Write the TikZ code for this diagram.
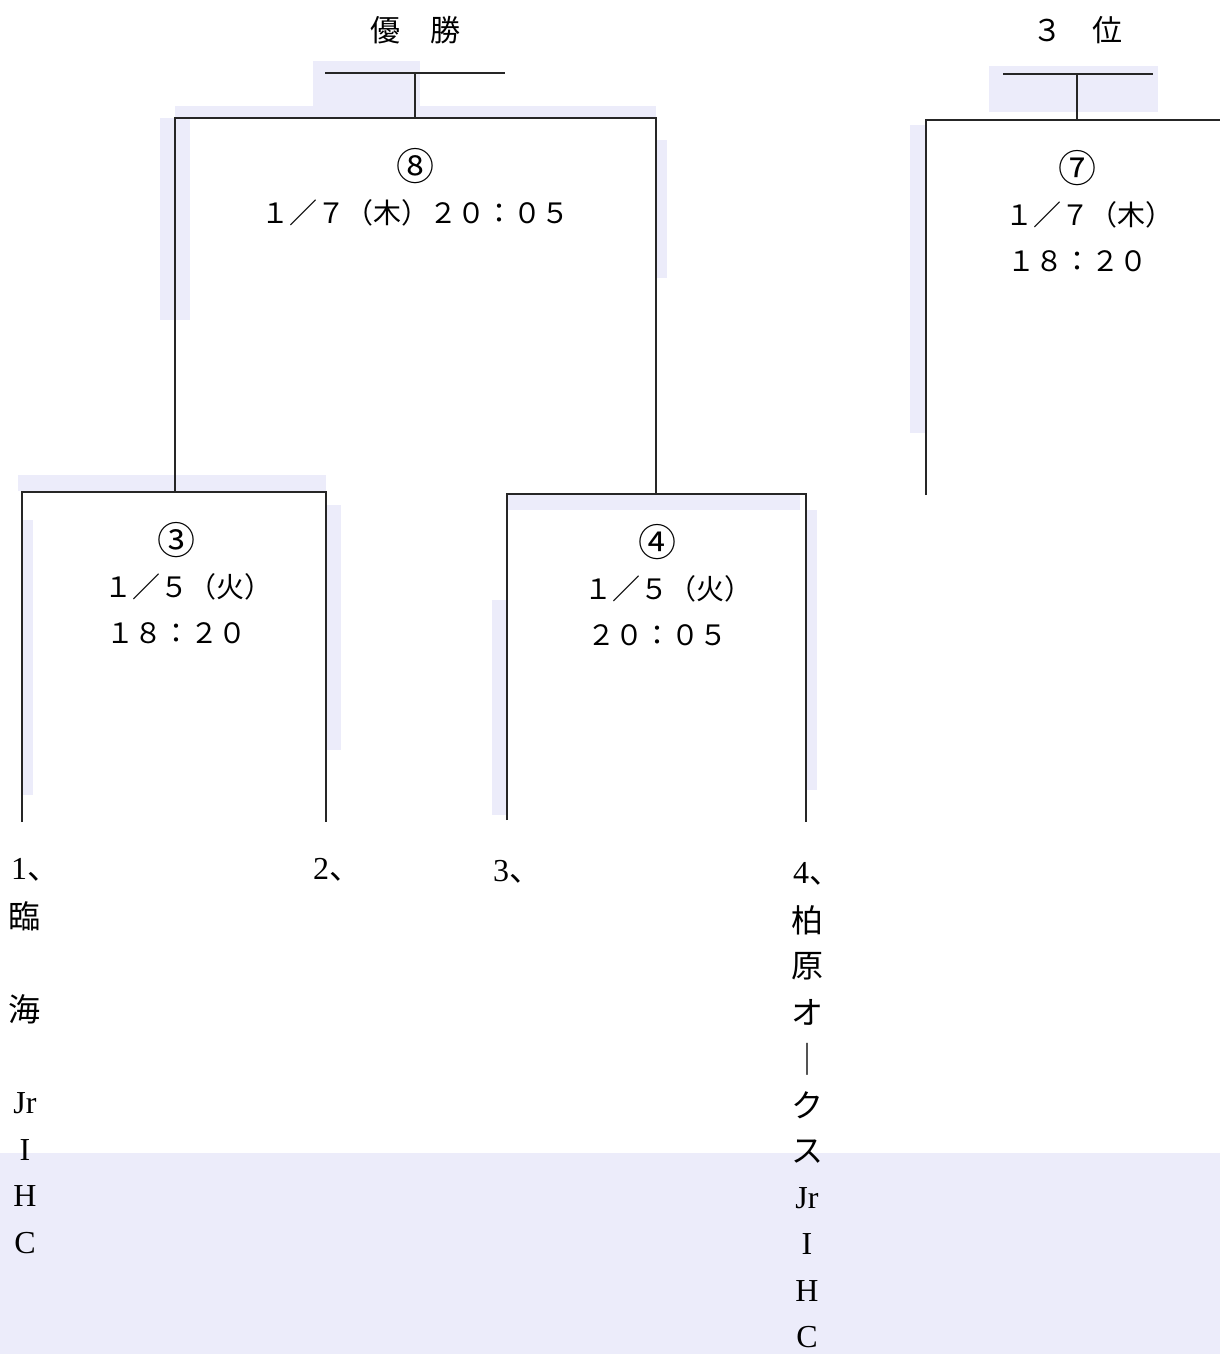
\documentclass[tikz,border=0pt]{standalone}
\usepackage{fontspec}
\setmainfont{Liberation Serif}
\newfontfamily\jp{Noto Sans CJK JP}
\usetikzlibrary{positioning}
\definecolor{scanblue}{RGB}{236,236,250}

\begin{document}
\begin{tikzpicture}[x=0.5pt,y=-0.5pt,node distance=23.3pt,on grid,
    line/.style={line width=0.8pt,black!85},
    title/.style={font=\jp\fontsize{15}{17}\selectfont,inner sep=0pt},
    date/.style={font=\jp\fontsize{14}{16}\selectfont,inner sep=0pt},
    num/.style={font=\jp\fontsize{19}{21}\selectfont,inner sep=0pt},
    team/.style={font=\fontsize{16}{18}\selectfont,inner sep=0pt}]
   \useasboundingbox (0,0) rectangle (1220,1354);
   % marks left by the scan
   \fill[scanblue] (313,61) rectangle (420,107);
   \fill[scanblue] (175,106) rectangle (656,117);
   \fill[scanblue] (160,118) rectangle (190,320);
   \fill[scanblue] (657,140) rectangle (667,278);
   \fill[scanblue] (18,475) rectangle (326,491);
   \fill[scanblue] (23,520) rectangle (33,795);
   \fill[scanblue] (327,505) rectangle (341,750);
   \fill[scanblue] (508,495) rectangle (800,510);
   \fill[scanblue] (492,600) rectangle (506,815);
   \fill[scanblue] (807,510) rectangle (817,790);
   \fill[scanblue] (989,66) rectangle (1158,112);
   \fill[scanblue] (910,125) rectangle (925,433);
   \fill[scanblue] (0,1153) rectangle (1220,1354);

   % bracket
   \coordinate (w) at (415,73);
   \coordinate (f) at (415,118);
   \coordinate (s3) at (175,492);
   \coordinate (s4) at (656,494);
   \coordinate (p1) at (22,822);
   \coordinate (p2) at (326,822);
   \coordinate (p3) at (507,820);
   \coordinate (p4) at (806,822);
   \draw[line] ([xshift=-45pt]w) -- ([xshift=45pt]w);
   \draw[line] (w) -- (f);
   \draw[line] (s3) |- (f) -| (s4);
   \draw[line] (p1) |- (s3) -| (p2);
   \draw[line] (p3) |- (s4) -| (p4);

   \coordinate (b) at (1077,74);
   \coordinate (t) at (1077,120);
   \coordinate (q7) at (926,495);
   \coordinate (q7r) at (1220,120);
   \draw[line] ([xshift=-37pt]b) -- ([xshift=38pt]b);
   \draw[line] (b) -- (t);
   \draw[line] (q7) |- (t) -- (q7r);

   % titles
   \node[title] (win) at (415,30) {優　勝};
   \node[title] (bronze) at (1077,30) {３　位};

   % matches
   \node[num] (n8) at (415,166) {⑧};
   \node[date] (d8) [below=of n8] {１／７（木）２０：０５};
   \node[num] (n7) at (1077,168) {⑦};
   \node[date] (d7) [below=of n7,xshift=6pt] {１／７（木）};
   \node[date] (h7) [below=of n7] {\phantom{x}};
   \node[date] (e7) [below=of h7] {１８：２０};
   \node[num] (n3) at (176,540) {③};
   \node[date] (d3) [below=of n3,xshift=6pt] {１／５（火）};
   \node[date] (h3) [below=of n3] {\phantom{x}};
   \node[date] (e3) [below=of h3] {１８：２０};
   \node[num] (n4) at (657,542) {④};
   \node[date] (d4) [below=of n4,xshift=5.5pt] {１／５（火）};
   \node[date] (h4) [below=of n4] {\phantom{x}};
   \node[date] (e4) [below=of h4] {２０：０５};

   % teams
   \node[team] (t1) at (35,870) {1{\jp 、}};
   \node[team] (t2) at (337,870) {2{\jp 、}};
   \node[team] (t3) at (517,872) {3{\jp 、}};
   \node[team] (t4) at (817,874) {4{\jp 、}};
   \foreach \c/\k in {{\jp 臨}/1,{\jp 海}/3,Jr/5,I/6,H/7,C/8}
     \node[team] (a\k) at (25,870+46.6*\k) {\c};
   \foreach \c/\k in {{\jp 柏}/1,{\jp 原}/2,{\jp オ}/3,{\jp ｜}/4,{\jp ク}/5,{\jp ス}/6,Jr/7,I/8,H/9,C/10}
     \node[team] (k\k) at (807,874+46.3*\k) {\c};
\end{tikzpicture}
\end{document}
